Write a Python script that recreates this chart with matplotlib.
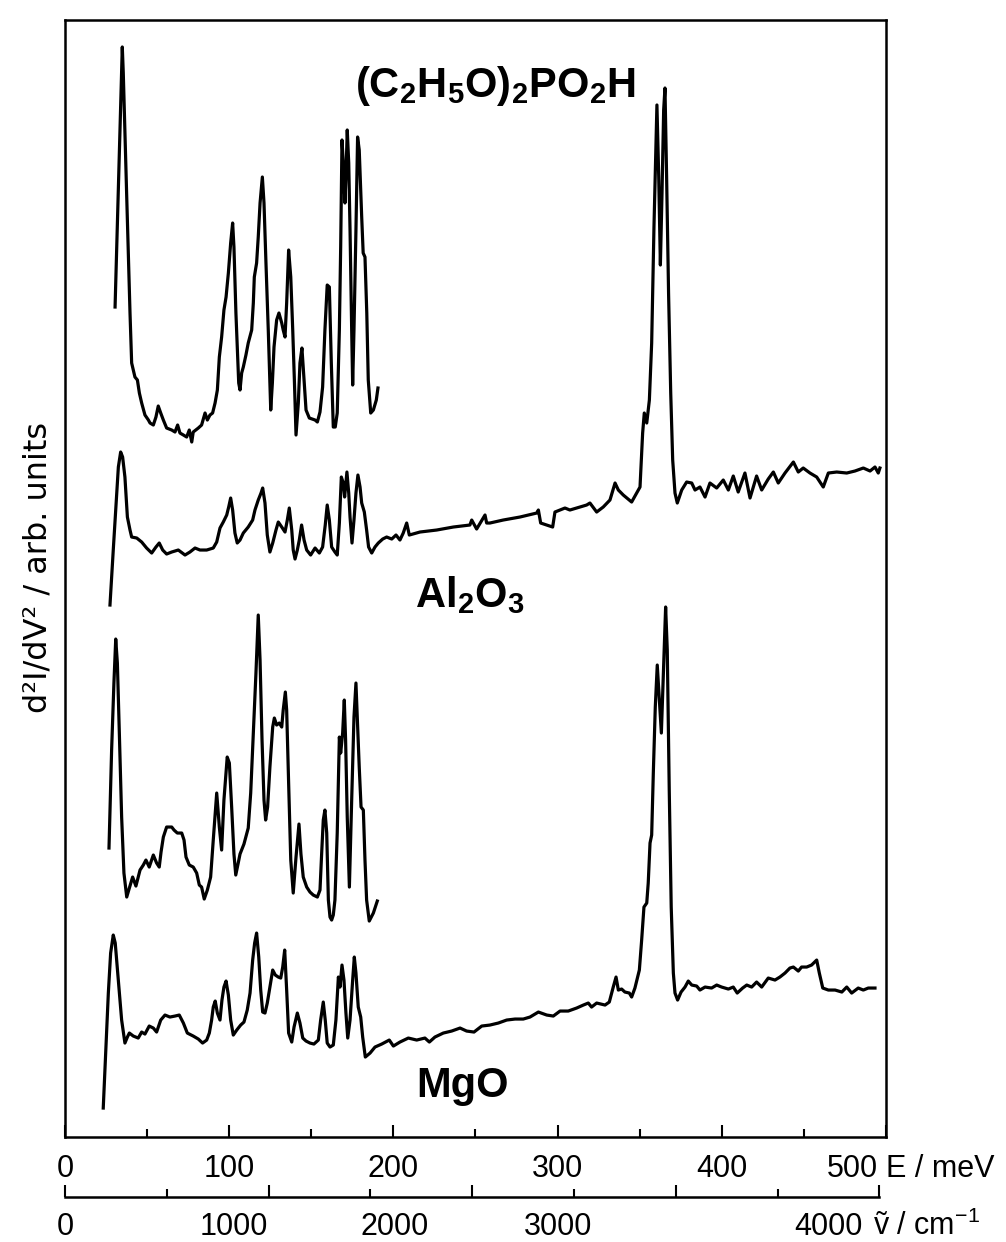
import matplotlib
matplotlib.use("Agg")
import matplotlib.pyplot as plt
import numpy as np
from matplotlib.ticker import MultipleLocator

MEV_TO_CM = 8.0655

# (energy loss / meV, d2I/dV2 / arb. units)
acid_trace = [
    (30.5, 83.0), (34.9, 109.0), (35.5, 106.4), (37.6, 94.0), (39.6, 82.4), (40.6, 77.4),
    (42.6, 76.0), (44.1, 75.7), (45.3, 74.4), (46.7, 73.4), (48.7, 72.2), (50.8, 71.7),
    (51.8, 71.4), (53.8, 71.2), (55.4, 72.0), (56.8, 73.1), (58.3, 72.4), (59.9, 71.7),
    (61.9, 70.9), (65.0, 70.7), (67.0, 70.5), (68.6, 71.2), (70.0, 70.4), (72.1, 70.2),
    (74.1, 70.0), (75.7, 70.7), (77.2, 69.5), (78.1, 70.5), (81.2, 70.9), (83.2, 71.2),
    (85.3, 72.4), (86.7, 71.7), (88.3, 72.2), (89.9, 72.4), (91.4, 73.4), (92.8, 74.7),
    (94.0, 78.0), (95.4, 80.0), (96.8, 82.7), (98.1, 84.0), (99.5, 86.4), (100.9, 89.4),
    (102.1, 91.4), (102.9, 89.0), (104.1, 82.4), (105.8, 75.4), (106.6, 74.7), (107.6, 76.4),
    (108.6, 77.0), (110.2, 78.2), (111.6, 79.4), (113.7, 80.7), (114.7, 83.4), (115.3, 86.0),
    (116.7, 87.4), (117.7, 90.0), (118.8, 93.4), (120.2, 96.0), (121.2, 93.4), (122.4, 87.4),
    (123.8, 80.7), (125.3, 72.7), (126.3, 75.4), (127.3, 79.0), (128.9, 81.7), (130.3, 82.4),
    (132.0, 81.4), (132.9, 80.7), (134.0, 80.0), (135.0, 83.4), (136.2, 88.7), (137.5, 86.0),
    (138.7, 80.7), (139.7, 75.7), (140.7, 70.2), (142.1, 73.4), (143.1, 77.4), (144.3, 78.9),
    (145.6, 75.7), (146.8, 72.7), (148.8, 71.9), (152.3, 71.7), (153.7, 71.5), (155.3, 72.5),
    (156.9, 75.0), (158.3, 80.7), (159.7, 85.2), (161.0, 85.0), (162.2, 77.4), (163.4, 71.0),
    (164.6, 71.0), (165.8, 72.4), (167.1, 80.7), (167.9, 89.0), (168.7, 99.7), (169.5, 97.4),
    (170.5, 93.4), (171.1, 96.0), (171.9, 100.7), (172.8, 97.4), (173.6, 90.7), (174.6, 80.7),
    (175.2, 75.2), (176.0, 80.7), (177.2, 90.7), (178.2, 100.0), (179.2, 98.7), (180.7, 92.0),
    (181.6, 88.4), (182.7, 88.0), (183.8, 82.4), (184.7, 75.7), (186.2, 72.4), (187.8, 72.7),
    (189.6, 73.7), (190.6, 74.9),
]

al2o3_trace = [
    (27.4, 53.2), (29.4, 58.7), (32.5, 67.0), (33.9, 68.5), (35.1, 68.0), (36.5, 66.0),
    (38.0, 62.0), (39.6, 60.7), (40.6, 60.0), (43.7, 59.9), (46.7, 59.5), (49.7, 58.9),
    (52.8, 58.4), (55.4, 59.0), (57.4, 59.4), (59.5, 58.7), (61.9, 58.3), (65.0, 58.5),
    (69.0, 58.7), (73.1, 58.2), (76.1, 58.5), (79.2, 58.9), (82.2, 58.7), (86.3, 58.7),
    (90.3, 58.9), (92.4, 59.5), (94.4, 60.9), (96.4, 61.5), (98.5, 62.2), (99.7, 63.0),
    (100.9, 63.9), (102.1, 62.7), (103.5, 60.4), (104.9, 59.4), (106.6, 59.7), (108.6, 60.4),
    (111.6, 61.0), (114.3, 61.7), (115.7, 62.7), (117.7, 63.7), (119.4, 64.4), (120.4, 64.9),
    (121.8, 63.4), (123.2, 60.2), (124.8, 58.5), (126.5, 59.4), (128.5, 60.7), (129.9, 61.5),
    (132.0, 61.0), (134.0, 60.5), (135.4, 61.7), (136.6, 62.9), (138.1, 60.7), (139.0, 58.7),
    (140.1, 57.8), (141.5, 58.7), (142.7, 59.7), (144.1, 61.2), (145.6, 59.7), (147.2, 58.7),
    (149.6, 58.2), (152.3, 58.9), (154.9, 58.4), (156.9, 59.0), (158.5, 61.2), (159.7, 63.2),
    (161.0, 61.7), (162.4, 59.0), (164.4, 58.5), (165.8, 58.2), (167.1, 61.4), (168.3, 66.0),
    (169.5, 65.4), (170.3, 64.0), (171.7, 66.5), (172.8, 64.4), (173.6, 62.0), (174.8, 59.4),
    (176.0, 61.7), (177.2, 64.4), (178.4, 66.2), (179.7, 65.0), (180.7, 63.4), (182.3, 62.5),
    (183.7, 60.7), (184.9, 59.0), (186.8, 58.4), (188.8, 59.0), (190.8, 59.4), (193.5, 59.8),
    (195.9, 60.0), (199.0, 59.8), (201.6, 60.2), (204.0, 59.7), (206.0, 60.4), (208.1, 61.4),
    (209.7, 60.2), (216.2, 60.5), (226.4, 60.7), (236.5, 61.0), (246.6, 61.2), (247.7, 61.7),
    (250.7, 60.8), (255.8, 62.2), (256.8, 61.4), (258.8, 61.4), (266.9, 61.7), (277.1, 62.0),
    (287.3, 62.4), (288.3, 62.7), (289.7, 61.4), (297.0, 61.0), (298.4, 62.5), (304.5, 62.9),
    (307.5, 62.7), (317.7, 63.2), (319.7, 63.4), (323.8, 62.5), (327.8, 63.0), (331.9, 63.7),
    (335.0, 65.4), (337.0, 64.7), (340.0, 64.2), (345.1, 63.5), (350.2, 65.0), (351.8, 70.4),
    (352.8, 72.4), (354.3, 71.4), (355.9, 73.7), (357.3, 79.4), (358.7, 91.0), (359.7, 97.7),
    (360.5, 103.2), (361.6, 96.0), (362.6, 87.2), (363.6, 94.4), (364.6, 102.7), (365.4, 104.9),
    (366.4, 96.0), (367.6, 84.3), (368.9, 74.4), (370.1, 67.7), (371.5, 64.4), (372.9, 63.4),
    (375.6, 64.7), (378.6, 65.5), (381.7, 65.4), (383.7, 64.7), (386.7, 65.0), (389.8, 64.0),
    (392.8, 65.4), (396.9, 64.9), (400.9, 65.7), (404.0, 64.7), (407.0, 66.1), (410.0, 64.5),
    (414.1, 66.4), (417.2, 63.9), (421.2, 66.1), (424.3, 64.7), (428.3, 65.8), (431.4, 66.5),
    (434.4, 65.4), (438.5, 66.4), (443.6, 67.5), (446.6, 66.5), (449.6, 66.9), (453.7, 66.4),
    (457.8, 66.0), (461.8, 65.0), (464.9, 66.4), (470.0, 66.5), (476.1, 66.4), (481.1, 66.6),
    (486.2, 66.9), (490.3, 66.6), (493.3, 67.0), (495.3, 66.4), (496.3, 66.9),
]

mgo_zoom_trace = [
    (26.8, 28.9), (28.4, 38.7), (29.8, 45.4), (30.9, 49.8), (31.9, 47.4), (33.1, 40.4),
    (34.5, 32.0), (35.9, 26.4), (37.6, 24.0), (39.2, 24.9), (41.2, 26.0), (43.2, 25.1),
    (45.7, 26.7), (47.7, 27.2), (49.3, 27.7), (51.3, 27.0), (53.8, 28.2), (55.8, 27.4),
    (57.4, 27.0), (58.5, 28.5), (59.9, 30.0), (61.9, 31.0), (65.0, 31.0), (66.4, 30.7),
    (68.4, 30.4), (71.1, 30.4), (72.5, 29.7), (73.7, 28.0), (75.7, 27.2), (78.1, 27.0),
    (80.2, 26.4), (81.8, 25.2), (83.2, 25.0), (84.8, 23.8), (86.7, 24.7), (88.7, 26.0),
    (90.3, 29.7), (92.4, 34.4), (94.0, 31.0), (95.4, 28.7), (96.8, 33.7), (98.8, 38.0),
    (100.1, 37.4), (101.5, 33.0), (102.9, 28.3), (104.0, 26.2), (105.5, 27.4), (106.6, 28.3),
    (109.0, 29.3), (111.6, 30.9), (113.1, 34.4), (114.7, 40.4), (116.3, 46.4), (117.7, 52.2),
    (118.8, 47.7), (120.0, 39.7), (121.2, 33.7), (122.2, 31.7), (123.4, 33.0), (124.8, 37.0),
    (126.5, 41.0), (127.5, 41.9), (128.9, 41.2), (130.5, 41.4), (132.0, 41.0), (132.9, 42.7),
    (134.2, 44.5), (135.0, 42.7), (136.2, 35.4), (137.5, 27.7), (139.0, 24.4), (140.7, 28.0),
    (142.5, 31.3), (143.7, 28.3), (145.1, 26.0), (147.2, 25.0), (149.2, 24.5), (151.2, 24.2),
    (153.7, 24.0), (155.3, 24.7), (156.3, 28.3), (157.3, 31.7), (158.3, 32.7), (159.4, 30.4),
    (160.4, 23.7), (161.4, 22.0), (162.4, 21.7), (163.4, 22.2), (164.4, 23.7), (165.8, 30.4),
    (167.1, 40.0), (167.9, 38.4), (169.1, 40.4), (170.1, 43.7), (170.9, 39.7), (171.9, 32.0),
    (173.2, 25.0), (174.6, 33.7), (176.0, 42.0), (177.2, 45.4), (178.0, 42.0), (179.2, 37.0),
    (180.3, 33.0), (181.7, 32.7), (182.7, 27.7), (183.7, 23.7), (185.3, 21.6), (187.8, 22.4),
    (190.2, 23.6),
]

mgo_trace = [
    (23.3, 2.9), (26.4, 14.4), (27.8, 18.4), (29.4, 20.2), (30.6, 19.4), (32.5, 15.7),
    (34.5, 11.7), (36.5, 9.4), (38.0, 10.0), (39.2, 10.4), (41.6, 10.1), (44.6, 9.9),
    (46.7, 10.5), (48.7, 10.3), (51.3, 11.1), (53.8, 10.9), (55.8, 10.5), (58.3, 11.7),
    (60.9, 12.2), (63.9, 12.0), (67.0, 12.1), (69.6, 12.2), (72.1, 11.4), (74.5, 10.4),
    (78.1, 10.1), (81.2, 9.8), (83.8, 9.4), (86.3, 9.7), (87.9, 10.4), (89.3, 11.7),
    (90.3, 13.0), (91.5, 13.6), (92.8, 12.4), (94.4, 11.7), (95.6, 13.7), (96.8, 15.0),
    (98.1, 15.6), (99.5, 14.2), (100.9, 11.7), (102.5, 10.2), (104.6, 10.7), (107.0, 11.2),
    (109.0, 11.5), (111.0, 12.7), (112.7, 14.4), (114.3, 17.7), (115.5, 19.4), (116.7, 20.4),
    (118.0, 18.0), (119.2, 14.7), (120.4, 12.5), (121.8, 12.4), (123.2, 13.4), (124.8, 15.0),
    (126.5, 16.7), (128.1, 16.2), (129.9, 16.0), (131.4, 15.9), (132.6, 17.0), (133.8, 18.7),
    (135.0, 14.7), (136.2, 10.4), (138.1, 9.5), (139.5, 11.0), (141.5, 12.4), (143.1, 11.4),
    (144.8, 9.9), (146.8, 9.6), (149.2, 9.4), (151.6, 9.3), (154.3, 9.7), (155.7, 11.7),
    (157.3, 13.5), (158.5, 11.7), (159.7, 9.4), (161.4, 9.0), (163.4, 9.2), (165.0, 11.7),
    (166.5, 16.0), (167.5, 15.0), (168.7, 17.2), (169.9, 15.7), (171.1, 12.4), (172.2, 9.9),
    (173.6, 11.7), (175.2, 15.7), (176.2, 18.0), (177.2, 16.4), (178.6, 13.0), (180.1, 12.0),
    (181.3, 10.0), (182.9, 8.0), (185.8, 8.4), (188.8, 9.0), (192.9, 9.3), (197.5, 9.7),
    (200.0, 9.1), (204.0, 9.5), (209.1, 9.9), (214.2, 9.7), (219.2, 9.9), (221.9, 9.5),
    (225.3, 10.0), (230.4, 10.4), (235.5, 10.6), (240.6, 10.9), (244.6, 10.6), (249.1, 10.5),
    (253.8, 11.1), (258.8, 11.2), (263.9, 11.4), (269.0, 11.7), (274.1, 11.8), (279.1, 11.8),
    (283.2, 12.0), (288.3, 12.5), (293.4, 12.2), (297.4, 12.1), (301.5, 12.6), (306.5, 12.6),
    (311.6, 12.9), (315.7, 13.2), (318.7, 13.4), (320.7, 13.0), (323.8, 13.4), (328.9, 13.2),
    (331.5, 13.5), (333.9, 15.0), (335.6, 16.0), (337.0, 14.7), (339.0, 14.8), (341.0, 14.5),
    (343.7, 14.4), (345.1, 14.0), (347.1, 14.9), (349.8, 16.7), (351.2, 19.7), (352.6, 23.0),
    (354.3, 23.4), (355.2, 25.4), (356.3, 29.4), (357.3, 30.2), (358.3, 36.4), (359.5, 43.0),
    (360.7, 47.2), (361.9, 44.0), (363.2, 40.4), (364.4, 46.3), (365.8, 53.0), (366.8, 48.7),
    (368.0, 34.7), (369.2, 23.0), (370.5, 16.4), (371.5, 14.4), (373.1, 13.7), (375.2, 14.5),
    (377.6, 15.0), (379.6, 15.6), (381.7, 15.2), (384.7, 15.1), (386.7, 14.7), (389.8, 15.0),
    (393.8, 14.9), (396.9, 15.2), (399.9, 15.0), (404.0, 14.8), (407.0, 15.0), (409.4, 14.4),
    (412.7, 14.9), (415.2, 15.2), (418.2, 15.0), (421.2, 15.5), (424.3, 15.0), (428.3, 15.9),
    (432.4, 15.7), (435.4, 16.0), (438.5, 16.4), (441.5, 16.9), (443.6, 17.0), (446.6, 16.6),
    (448.6, 17.0), (451.7, 17.0), (454.7, 17.2), (457.8, 17.7), (459.4, 16.4), (461.5, 14.9),
    (464.9, 14.7), (469.0, 14.7), (473.1, 14.5), (476.1, 15.0), (479.1, 14.4), (483.1, 14.9),
    (486.2, 14.7), (489.2, 14.9), (493.3, 14.9),
]

energy_ticks = [0, 100, 200, 300, 400, 500]
wavenumber_ticks = [0, 1000, 2000, 3000, 4000]
sample_labels = [r"(C$_2$H$_5$O)$_2$PO$_2$H", r"Al$_2$O$_3$", "MgO"]

AXFONT = ["Liberation Sans", "DejaVu Sans"]

plt.rcParams.update({
    "mathtext.default": "regular",
    "axes.linewidth": 1.8,
})

fig = plt.figure(figsize=(10.06, 12.42), dpi=100)
ax = fig.add_axes([0.0646, 0.0845, 0.8161, 0.8994])

for trace in (acid_trace, al2o3_trace, mgo_zoom_trace, mgo_trace):
    e, s = np.array(trace).T
    ax.plot(e, s, color="black", lw=2.3, solid_joinstyle="round")

ax.set_xlim(0, 500)
ax.set_ylim(0, 111.7)
ax.set_yticks([])
ax.set_xticks(energy_ticks)
ax.xaxis.set_minor_locator(MultipleLocator(50))
ax.tick_params(axis="x", which="major", direction="in", length=9, width=1.5, labelbottom=False)
ax.tick_params(axis="x", which="minor", direction="in", length=5.5, width=1.5)

for v in energy_ticks:
    last = v == energy_ticks[-1]
    ax.annotate(str(v), xy=(v, 0), xycoords=("data", "axes fraction"),
                xytext=(-6 if last else 0, -29), textcoords="offset points",
                ha="right" if last else "center", va="baseline",
                fontsize=22, family=AXFONT)
fig.text(0.881, 0.0523, "E / meV", ha="left", va="baseline", fontsize=22, family=AXFONT)

# wavenumber scale underneath
ax2 = fig.add_axes([0.0646, 0.0362, 0.8161, 0.0001])
ax2.set_xlim(0, 500 * MEV_TO_CM)
ax2.set_ylim(0, 1)
ax2.patch.set_visible(False)
for side in ("left", "right", "top"):
    ax2.spines[side].set_visible(False)
ax2.spines["bottom"].set_bounds(0, wavenumber_ticks[-1])
ax2.set_yticks([])
ax2.set_xticks(wavenumber_ticks)
ax2.xaxis.set_minor_locator(MultipleLocator(500))
ax2.tick_params(axis="x", which="major", direction="in", length=9, width=1.5, labelbottom=False)
ax2.tick_params(axis="x", which="minor", direction="in", length=6, width=1.5)

# in the original print these labels sit under the meV numbers
wn_label_pos = [0, 103, 201, 300, 486]
for lab, pos in zip(wavenumber_ticks, wn_label_pos):
    ax.annotate(str(lab), xy=(pos, 0), xycoords=("data", "axes fraction"),
                xytext=(0, -70.5), textcoords="offset points",
                ha="right" if lab == wavenumber_ticks[-1] else "center", va="baseline",
                fontsize=22, family=AXFONT)
fig.text(0.868, 0.0055, "ṽ / cm$^{-1}$", ha="left", va="baseline", fontsize=22, family=AXFONT)

fig.text(0.038, 0.543, "d²I/dV² / arb. units", rotation=90, ha="center", va="center",
         fontsize=23, family="DejaVu Sans")

for lab, (x, y) in zip(sample_labels, [(0.524, 0.931), (0.493, 0.474), (0.484, 0.036)]):
    ax.text(x, y, lab, transform=ax.transAxes, ha="center", va="baseline",
            fontsize=30, family="Liberation Sans", fontweight="bold")

fig.savefig("out.png", dpi=100, facecolor="white")
